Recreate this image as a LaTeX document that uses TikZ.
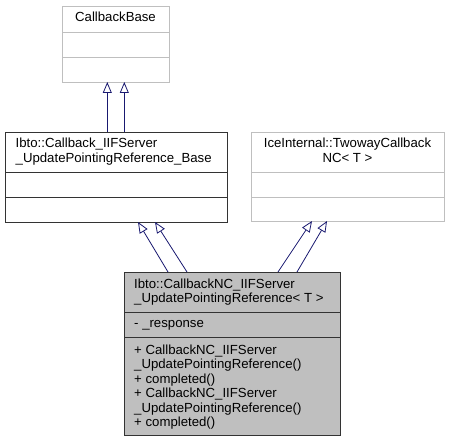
\documentclass[tikz,border=0pt]{standalone}
\usepackage{fontspec}
\setmainfont{Liberation Sans}
\usetikzlibrary{arrows.meta}
\definecolor{edgeblue}{RGB}{25,25,112}
\definecolor{lightframe}{RGB}{191,191,191}
\definecolor{boxgray}{RGB}{191,191,191}
\tikzset{
  classbox/.style={rectangle, inner sep=0pt, line width=0.9pt},
  blackbox/.style={classbox, draw=black!80},
  greybox/.style={classbox, draw=lightframe},
  divider/.style={line width=0.9pt},
  txt/.style={inner sep=0pt, font=\fontsize{13.2}{14.5}\selectfont},
  inherit/.style={draw=edgeblue, line width=0.8pt, -{Triangle[open, length=11pt, width=9pt, fill=white]}}
}
\begin{document}
\begin{tikzpicture}[x=1pt,y=-1pt]
\useasboundingbox (0,0) rectangle (453,441);
% CallbackBase
\node[greybox, minimum width=107pt, minimum height=76pt] (cb) at (115.5,44) {};
\draw[divider, lightframe] (62,32) -- (169,32) (62,57) -- (169,57);
\node[txt, anchor=base] (cbt) at (115.5,22) {CallbackBase};
% Base
\node[blackbox, minimum width=222pt, minimum height=90pt] (base) at (116,177) {};
\draw[divider, black!80] (5,172) -- (227,172) (5,197) -- (227,197);
\node[txt, anchor=base west, align=left] (baset) at (15.5,162.5) {Ibto::Callback\_IIFServer\\\_UpdatePointingReference\_Base};
% Twoway
\node[greybox, minimum width=193pt, minimum height=89pt] (tw) at (347.5,176.5) {};
\draw[divider, lightframe] (251,172) -- (444,172) (251,197) -- (444,197);
\node[txt, anchor=base, align=center] (twt) at (347.5,162.5) {IceInternal::TwowayCallback\\NC< T >};
% Bottom
\node[blackbox, fill=boxgray, minimum width=216pt, minimum height=163pt] (bot) at (232,353.5) {};
\draw[divider, black!80] (124,312) -- (340,312) (124,337) -- (340,337);
\node[txt, anchor=base west, align=left] (bott) at (134,302.5) {Ibto::CallbackNC\_IIFServer\\\_UpdatePointingReference< T >};
\node[txt, anchor=base west, align=left] (botattr) at (134,327.5) {- \_response};
\node[txt, anchor=base west, align=left] (botops) at (134,426.5) {+ CallbackNC\_IIFServer\\\_UpdatePointingReference()\\+ completed()\\+ CallbackNC\_IIFServer\\\_UpdatePointingReference()\\+ completed()};
% connector endpoints
\coordinate (b1) at (107.3,132);
\coordinate (b2) at (124.3,132);
\coordinate (c1) at (107.3,82);
\coordinate (c2) at (124.3,82);
\coordinate (s1) at (168,272);
\coordinate (s2) at (187,272);
\coordinate (t1) at (138,222);
\coordinate (t2) at (155,222);
\coordinate (s3) at (278,272);
\coordinate (s4) at (297,272);
\coordinate (t3) at (312,221);
\coordinate (t4) at (327,221);
\draw[inherit] (b1) -- (c1);
\draw[inherit] (b2) -- (c2);
\draw[inherit] (s1) -- (t1);
\draw[inherit] (s2) -- (t2);
\draw[inherit] (s3) -- (t3);
\draw[inherit] (s4) -- (t4);
\end{tikzpicture}
\end{document}
